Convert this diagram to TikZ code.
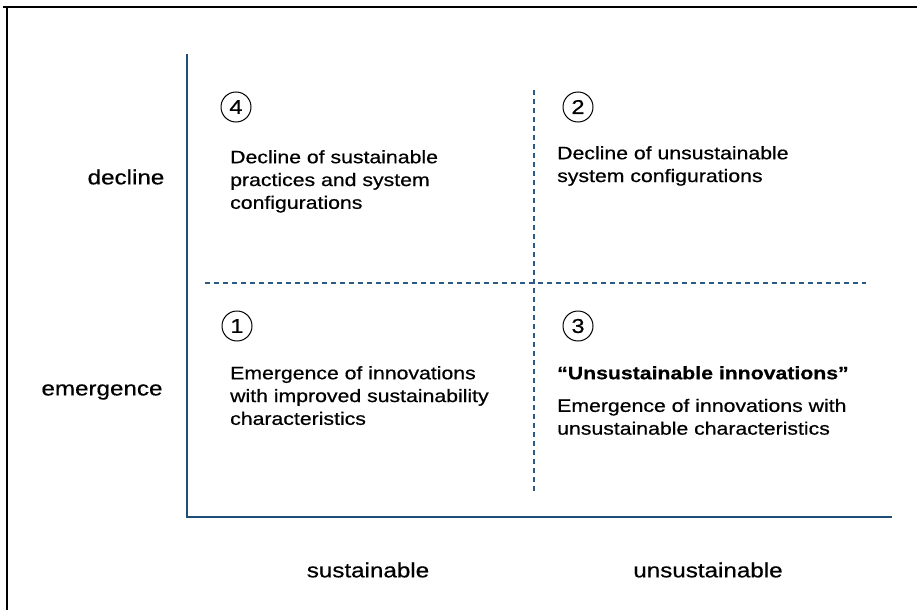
\documentclass[tikz,border=0pt]{standalone}
\usepackage{fontspec}
\setmainfont{Liberation Sans}[FakeStretch=1.18, FakeBold=0.6]
\usetikzlibrary{positioning}

\definecolor{axisblue}{HTML}{1F4E79}
\definecolor{gridblue}{HTML}{2B5A86}

\begin{document}
\begin{tikzpicture}[
    x=1pt, y=-1pt,
    node distance=10pt,
    axis/.style={draw=axisblue, line width=1.6pt},
    divider/.style={draw=gridblue, line width=1.1pt, dash pattern=on 5pt off 4pt},
    frame/.style={draw=black, line width=2.2pt},
    num/.style={circle, draw, line width=1pt, minimum size=30pt, inner sep=0pt, font=\fontsize{20}{20}\selectfont},
    quadtext/.style={anchor=north west, inner sep=0pt, align=left, font=\fontsize{18}{22.8}\selectfont},
    label/.style={inner sep=0pt, font=\fontsize{20.5}{21}\selectfont}
]
    \useasboundingbox (0,0) rectangle (917,610);

    % outer frame (top and left edge only)
    \draw [frame] (3,7) -- (917,7);
    \draw [frame] (7,6) -- (7,610);

    % axes
    \coordinate (origin) at (187,517);
    \coordinate (ytop) at (187,54);
    \coordinate (xend) at (892,517);
    \draw [axis] (ytop) -- (origin) -- (xend);

    % quadrant dividers
    \coordinate (vtop) at (534,90);
    \coordinate (vbot) at (534,491);
    \coordinate (hleft) at (205,283);
    \coordinate (hright) at (866,283);
    \draw [divider] (vtop) -- (vbot);
    \draw [divider] (hleft) -- (hright);

    % quadrant 4 (top left)
    \node [num] (num4) at (236,107) {4};
    \node [quadtext] (q4) at (230,150) {Decline of sustainable\\practices and system\\configurations};

    % quadrant 2 (top right)
    \node [num] (num2) at (578,107) {2};
    \node [quadtext] (q2) at (557,146) {Decline of unsustainable\\system configurations};

    % quadrant 1 (bottom left)
    \node [num] (num1) at (237,326) {1};
    \node [quadtext] (q1) at (230,366) {Emergence of innovations\\with improved sustainability\\characteristics};

    % quadrant 3 (bottom right)
    \node [num] (num3) at (578,326) {3};
    \node [quadtext, font=\fontsize{18}{22.8}\selectfont\bfseries] (q3title) at (557,366) {“Unsustainable innovations”};
    \node [quadtext, below=19pt of q3title.south west, anchor=north west] (q3) {Emergence of innovations with\\unsustainable characteristics};

    % row labels
    \node [label] (decline) at (126,177) {decline};
    \node [label] (emergence) at (102,392) {emergence};

    % column labels
    \node [label] (sust) at (368,570) {sustainable};
    \node [label] (unsust) at (708,570) {unsustainable};

\end{tikzpicture}
\end{document}
